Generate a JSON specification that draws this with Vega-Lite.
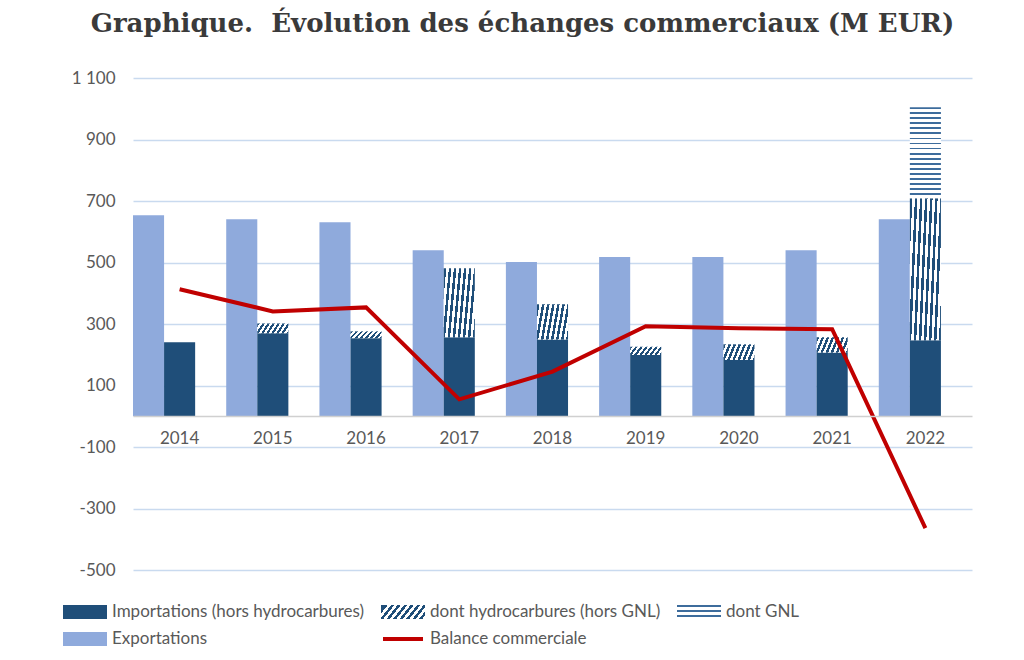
{
  "$schema": "https://vega.github.io/schema/vega-lite/v6.json",
  "width": 839,
  "height": 492,
  "autosize": {"type": "none"},
  "padding": {"left": 133, "top": 78, "right": 52, "bottom": 90},
  "background": "white",
  "title": {
    "text": "Graphique.\u00a0 Évolution des échanges commerciaux (M EUR)",
    "font": "DejaVu Serif",
    "fontSize": 26,
    "fontWeight": "bold",
    "color": "#3a3a3a",
    "anchor": "middle",
    "dx": -30,
    "offset": 32
  },
  "config": {
    "view": {"stroke": null},
    "font": "Lato"
  },
  "datasets": {
    "barres": [
      {"annee": "2014", "groupe": "Exportations", "serie": "Exportations", "rang": 1, "valeur": 654},
      {"annee": "2014", "groupe": "Importations", "serie": "Importations (hors hydrocarbures)", "rang": 1, "valeur": 241},
      {"annee": "2015", "groupe": "Exportations", "serie": "Exportations", "rang": 1, "valeur": 641},
      {"annee": "2015", "groupe": "Importations", "serie": "Importations (hors hydrocarbures)", "rang": 1, "valeur": 270},
      {"annee": "2015", "groupe": "Importations", "serie": "dont hydrocarbures (hors GNL)", "rang": 2, "valeur": 32},
      {"annee": "2016", "groupe": "Exportations", "serie": "Exportations", "rang": 1, "valeur": 631},
      {"annee": "2016", "groupe": "Importations", "serie": "Importations (hors hydrocarbures)", "rang": 1, "valeur": 254},
      {"annee": "2016", "groupe": "Importations", "serie": "dont hydrocarbures (hors GNL)", "rang": 2, "valeur": 22},
      {"annee": "2017", "groupe": "Exportations", "serie": "Exportations", "rang": 1, "valeur": 540},
      {"annee": "2017", "groupe": "Importations", "serie": "Importations (hors hydrocarbures)", "rang": 1, "valeur": 257},
      {"annee": "2017", "groupe": "Importations", "serie": "dont hydrocarbures (hors GNL)", "rang": 2, "valeur": 224},
      {"annee": "2018", "groupe": "Exportations", "serie": "Exportations", "rang": 1, "valeur": 502},
      {"annee": "2018", "groupe": "Importations", "serie": "Importations (hors hydrocarbures)", "rang": 1, "valeur": 250},
      {"annee": "2018", "groupe": "Importations", "serie": "dont hydrocarbures (hors GNL)", "rang": 2, "valeur": 114},
      {"annee": "2019", "groupe": "Exportations", "serie": "Exportations", "rang": 1, "valeur": 518},
      {"annee": "2019", "groupe": "Importations", "serie": "Importations (hors hydrocarbures)", "rang": 1, "valeur": 199},
      {"annee": "2019", "groupe": "Importations", "serie": "dont hydrocarbures (hors GNL)", "rang": 2, "valeur": 27},
      {"annee": "2020", "groupe": "Exportations", "serie": "Exportations", "rang": 1, "valeur": 518},
      {"annee": "2020", "groupe": "Importations", "serie": "Importations (hors hydrocarbures)", "rang": 1, "valeur": 183},
      {"annee": "2020", "groupe": "Importations", "serie": "dont hydrocarbures (hors GNL)", "rang": 2, "valeur": 51},
      {"annee": "2021", "groupe": "Exportations", "serie": "Exportations", "rang": 1, "valeur": 540},
      {"annee": "2021", "groupe": "Importations", "serie": "Importations (hors hydrocarbures)", "rang": 1, "valeur": 207},
      {"annee": "2021", "groupe": "Importations", "serie": "dont hydrocarbures (hors GNL)", "rang": 2, "valeur": 50},
      {"annee": "2022", "groupe": "Exportations", "serie": "Exportations", "rang": 1, "valeur": 641},
      {"annee": "2022", "groupe": "Importations", "serie": "Importations (hors hydrocarbures)", "rang": 1, "valeur": 247},
      {"annee": "2022", "groupe": "Importations", "serie": "dont hydrocarbures (hors GNL)", "rang": 2, "valeur": 462},
      {"annee": "2022", "groupe": "Importations", "serie": "dont GNL", "rang": 3, "valeur": 296}
    ],
    "balance": [
      {"annee": "2014", "serie": "Balance commerciale", "valeur": 413},
      {"annee": "2015", "serie": "Balance commerciale", "valeur": 341},
      {"annee": "2016", "serie": "Balance commerciale", "valeur": 354},
      {"annee": "2017", "serie": "Balance commerciale", "valeur": 55},
      {"annee": "2018", "serie": "Balance commerciale", "valeur": 145},
      {"annee": "2019", "serie": "Balance commerciale", "valeur": 293},
      {"annee": "2020", "serie": "Balance commerciale", "valeur": 286},
      {"annee": "2021", "serie": "Balance commerciale", "valeur": 283},
      {"annee": "2022", "serie": "Balance commerciale", "valeur": -364}
    ]
  },
  "encoding": {
    "x": {
      "field": "annee",
      "type": "nominal",
      "scale": {"paddingInner": 0, "paddingOuter": 0},
      "axis": {
        "title": null,
        "labelAngle": 0,
        "offset": -154,
        "domainColor": "#d0d0d0",
        "domainWidth": 1.5,
        "ticks": false,
        "labelColor": "#595959",
        "labelFont": "Lato",
        "labelFontSize": 17,
        "labelPadding": 14,
        "zindex": 1
      }
    },
    "y": {
      "field": "valeur",
      "type": "quantitative",
      "scale": {"domain": [-500, 1100], "nice": false, "zero": false},
      "axis": {
        "title": null,
        "values": [-500, -300, -100, 100, 300, 500, 700, 900, 1100],
        "labelExpr": "datum.value >= 1000 ? replace(format(datum.value, ','), ',', '\u00a0') : '' + datum.value",
        "domain": false,
        "ticks": false,
        "gridColor": "#c9daef",
        "gridWidth": 1.5,
        "labelColor": "#595959",
        "labelFont": "Lato",
        "labelFontSize": 17,
        "labelPadding": 18
      }
    }
  },
  "layer": [
    {
      "data": {"name": "barres"},
      "mark": {"type": "bar"},
      "encoding": {
        "xOffset": {
          "field": "groupe",
          "type": "nominal",
          "scale": {"domain": ["Exportations", "Importations", "vide"], "paddingInner": 0, "paddingOuter": 0}
        },
        "y": {"field": "valeur", "type": "quantitative", "stack": "zero"},
        "order": {"field": "rang", "type": "quantitative", "sort": "ascending"},
        "color": {
          "field": "serie",
          "type": "nominal",
          "scale": {
            "domain": ["Importations (hors hydrocarbures)", "dont hydrocarbures (hors GNL)", "dont GNL", "Exportations", "Balance commerciale"],
            "range": [
              "#1f4e79",
              {"expr": "{gradient: 'linear', x1: 0, y1: 0, x2: 1.25, y2: 0.25, stops: [{offset: 0, color: '#1f4e79'}, {offset: 0.0625, color: '#1f4e79'}, {offset: 0.0625, color: '#ffffff'}, {offset: 0.125, color: '#ffffff'}, {offset: 0.125, color: '#1f4e79'}, {offset: 0.1875, color: '#1f4e79'}, {offset: 0.1875, color: '#ffffff'}, {offset: 0.25, color: '#ffffff'}, {offset: 0.25, color: '#1f4e79'}, {offset: 0.3125, color: '#1f4e79'}, {offset: 0.3125, color: '#ffffff'}, {offset: 0.375, color: '#ffffff'}, {offset: 0.375, color: '#1f4e79'}, {offset: 0.4375, color: '#1f4e79'}, {offset: 0.4375, color: '#ffffff'}, {offset: 0.5, color: '#ffffff'}, {offset: 0.5, color: '#1f4e79'}, {offset: 0.5625, color: '#1f4e79'}, {offset: 0.5625, color: '#ffffff'}, {offset: 0.625, color: '#ffffff'}, {offset: 0.625, color: '#1f4e79'}, {offset: 0.6875, color: '#1f4e79'}, {offset: 0.6875, color: '#ffffff'}, {offset: 0.75, color: '#ffffff'}, {offset: 0.75, color: '#1f4e79'}, {offset: 0.8125, color: '#1f4e79'}, {offset: 0.8125, color: '#ffffff'}, {offset: 0.875, color: '#ffffff'}, {offset: 0.875, color: '#1f4e79'}, {offset: 0.9375, color: '#1f4e79'}, {offset: 0.9375, color: '#ffffff'}, {offset: 1, color: '#ffffff'}]}"},
              {"expr": "{gradient: 'linear', x1: 0, y1: 0, x2: 0, y2: 1, stops: [{offset: 0, color: '#3d6c9c'}, {offset: 0.02, color: '#3d6c9c'}, {offset: 0.02, color: '#ffffff'}, {offset: 0.0556, color: '#ffffff'}, {offset: 0.0556, color: '#3d6c9c'}, {offset: 0.0756, color: '#3d6c9c'}, {offset: 0.0756, color: '#ffffff'}, {offset: 0.1111, color: '#ffffff'}, {offset: 0.1111, color: '#3d6c9c'}, {offset: 0.1311, color: '#3d6c9c'}, {offset: 0.1311, color: '#ffffff'}, {offset: 0.1667, color: '#ffffff'}, {offset: 0.1667, color: '#3d6c9c'}, {offset: 0.1867, color: '#3d6c9c'}, {offset: 0.1867, color: '#ffffff'}, {offset: 0.2222, color: '#ffffff'}, {offset: 0.2222, color: '#3d6c9c'}, {offset: 0.2422, color: '#3d6c9c'}, {offset: 0.2422, color: '#ffffff'}, {offset: 0.2778, color: '#ffffff'}, {offset: 0.2778, color: '#3d6c9c'}, {offset: 0.2978, color: '#3d6c9c'}, {offset: 0.2978, color: '#ffffff'}, {offset: 0.3333, color: '#ffffff'}, {offset: 0.3333, color: '#3d6c9c'}, {offset: 0.3533, color: '#3d6c9c'}, {offset: 0.3533, color: '#ffffff'}, {offset: 0.3889, color: '#ffffff'}, {offset: 0.3889, color: '#3d6c9c'}, {offset: 0.4089, color: '#3d6c9c'}, {offset: 0.4089, color: '#ffffff'}, {offset: 0.4444, color: '#ffffff'}, {offset: 0.4444, color: '#3d6c9c'}, {offset: 0.4644, color: '#3d6c9c'}, {offset: 0.4644, color: '#ffffff'}, {offset: 0.5, color: '#ffffff'}, {offset: 0.5, color: '#3d6c9c'}, {offset: 0.52, color: '#3d6c9c'}, {offset: 0.52, color: '#ffffff'}, {offset: 0.5556, color: '#ffffff'}, {offset: 0.5556, color: '#3d6c9c'}, {offset: 0.5756, color: '#3d6c9c'}, {offset: 0.5756, color: '#ffffff'}, {offset: 0.6111, color: '#ffffff'}, {offset: 0.6111, color: '#3d6c9c'}, {offset: 0.6311, color: '#3d6c9c'}, {offset: 0.6311, color: '#ffffff'}, {offset: 0.6667, color: '#ffffff'}, {offset: 0.6667, color: '#3d6c9c'}, {offset: 0.6867, color: '#3d6c9c'}, {offset: 0.6867, color: '#ffffff'}, {offset: 0.7222, color: '#ffffff'}, {offset: 0.7222, color: '#3d6c9c'}, {offset: 0.7422, color: '#3d6c9c'}, {offset: 0.7422, color: '#ffffff'}, {offset: 0.7778, color: '#ffffff'}, {offset: 0.7778, color: '#3d6c9c'}, {offset: 0.7978, color: '#3d6c9c'}, {offset: 0.7978, color: '#ffffff'}, {offset: 0.8333, color: '#ffffff'}, {offset: 0.8333, color: '#3d6c9c'}, {offset: 0.8533, color: '#3d6c9c'}, {offset: 0.8533, color: '#ffffff'}, {offset: 0.8889, color: '#ffffff'}, {offset: 0.8889, color: '#3d6c9c'}, {offset: 0.9089, color: '#3d6c9c'}, {offset: 0.9089, color: '#ffffff'}, {offset: 0.9444, color: '#ffffff'}, {offset: 0.9444, color: '#3d6c9c'}, {offset: 0.9644, color: '#3d6c9c'}, {offset: 0.9644, color: '#ffffff'}, {offset: 1, color: '#ffffff'}]}"},
              "#8faadc",
              "#c00000"
            ]
          },
          "legend": {
            "title": null,
            "orient": "none",
            "direction": "horizontal",
            "legendX": -70,
            "legendY": 522,
            "columns": 3,
            "columnPadding": 10,
            "rowPadding": 1,
            "symbolSize": 400,
            "symbolType": "M-1,-0.5H3V0.5H-1Z",
            "labelFont": "Lato",
            "labelFontSize": 17,
            "labelColor": "#595959",
            "labelOffset": 25,
            "labelLimit": 400,
            "encode": {
              "symbols": {
                "update": {
                  "shape": {"signal": "datum.value === 'Balance commerciale' ? 'M-1,0H3' : 'M-1,-0.5H3V0.5H-1Z'"},
                  "stroke": {"signal": "datum.value === 'Balance commerciale' ? '#c00000' : 'transparent'"},
                  "strokeWidth": {"value": 4},
                  "opacity": {"value": 1}
                }
              }
            }
          }
        }
      }
    },
    {
      "data": {"name": "balance"},
      "mark": {"type": "line", "strokeWidth": 4, "color": "#c00000"},
      "encoding": {
        "color": {"field": "serie", "type": "nominal"}
      }
    }
  ]
}
